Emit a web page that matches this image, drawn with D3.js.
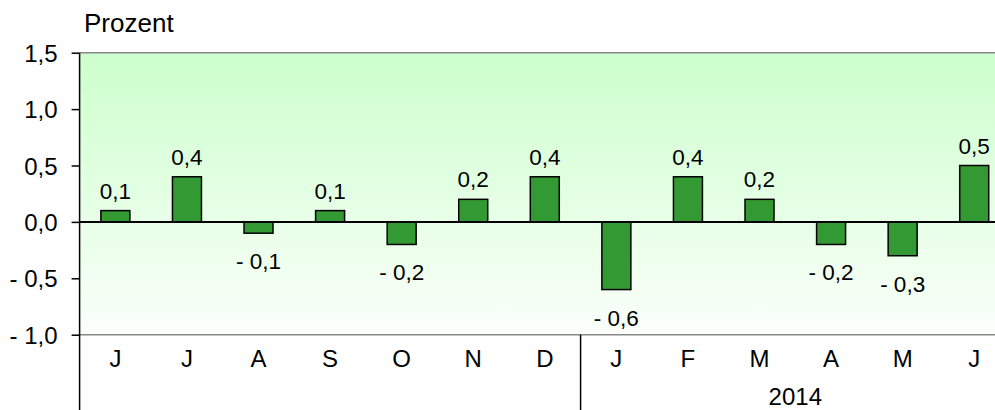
<!DOCTYPE html>
<html><head><meta charset="utf-8">
<script src="https://cdn.jsdelivr.net/npm/d3@7"></script>
<style>body{margin:0;background:#fff;overflow:hidden}svg{display:block}text{font-family:"Liberation Sans",Arial,sans-serif;fill:#000}</style>
</head><body>
<svg id="c" width="995" height="410"></svg>
<script>
const months = ["J","J","A","S","O","N","D","J","F","M","A","M","J"];
const values = [0.1,0.4,-0.1,0.1,-0.2,0.2,0.4,-0.6,0.4,0.2,-0.2,-0.3,0.5];
const yTicks = [1.5,1.0,0.5,0,-0.5,-1.0];
const yearLabels = [{label:"2014", from:7, to:12}];
const unitLabel = "Prozent";

const svg = d3.select("#c");
const L = 79.6, R = 1010, T = 52.7, B = 334.7;
const x = d3.scaleBand().domain(d3.range(months.length)).range([L,R]).paddingInner(0.595).paddingOuter(0.2975);
const y = d3.scaleLinear().domain([-1,1.5]).range([B,T]);
const fmt = v => (v<0?"- ":"") + d3.format(".1f")(Math.abs(v)).replace(".",",");

const defs = svg.append("defs");
const g = defs.append("linearGradient").attr("id","bg").attr("x1",0).attr("y1",0).attr("x2",0).attr("y2",1);
g.append("stop").attr("offset","0%").attr("stop-color","#ccffcc");
g.append("stop").attr("offset","100%").attr("stop-color","#fbfffb");
svg.append("rect").attr("x",L).attr("y",T).attr("width",R-L).attr("height",B-T).attr("fill","url(#bg)");

// top & bottom grid lines
[1.5,-1.0].forEach(v=>svg.append("line").attr("x1",L).attr("x2",R).attr("y1",y(v)).attr("y2",y(v)).attr("stroke","#888").attr("stroke-width",1.5));

// bars
const step = x.step();
svg.selectAll("rect.bar").data(values).join("rect").attr("class","bar")
  .attr("x",(d,i)=>x(i)).attr("width",x.bandwidth())
  .attr("y",d=>y(Math.max(0,d))).attr("height",d=>Math.abs(y(d)-y(0)))
  .attr("fill","#339933").attr("stroke","#000").attr("stroke-width",1.5);

// zero line
svg.append("line").attr("x1",L).attr("x2",R).attr("y1",y(0)).attr("y2",y(0)).attr("stroke","#000").attr("stroke-width",2);

// value labels
svg.selectAll("text.val").data(values).join("text").attr("class","val")
  .attr("x",(d,i)=>x(i)+x.bandwidth()/2)
  .attr("y",d=> d>=0 ? y(d)-12 : y(d)+36)
  .attr("text-anchor","middle").attr("font-size",22.5).text(fmt);

// y axis
const yAxis = d3.axisLeft(y).tickValues(yTicks).tickSize(8).tickPadding(14).tickFormat(fmt);
const ya = svg.append("g").attr("transform",`translate(${L},0)`).call(yAxis);
ya.select(".domain").remove();
ya.selectAll(".tick line").attr("stroke","#000").attr("stroke-width",1.5);
ya.selectAll(".tick text").attr("font-size",24).attr("font-family","Liberation Sans, Arial, sans-serif").attr("fill","#000").attr("dy","0.36em");
svg.append("line").attr("x1",L).attr("x2",L).attr("y1",T).attr("y2",410).attr("stroke","#000").attr("stroke-width",1.5);

// x labels
svg.selectAll("text.mon").data(months).join("text").attr("class","mon")
  .attr("x",(d,i)=>x(i)+x.bandwidth()/2).attr("y",367)
  .attr("text-anchor","middle").attr("font-size",24).text(d=>d);

// year separator and labels
svg.append("line").attr("x1",L+7*step).attr("x2",L+7*step).attr("y1",B).attr("y2",410).attr("stroke","#000").attr("stroke-width",1.5);
yearLabels.forEach(yl=>{
  const cx = (x(yl.from)+x(yl.to)+x.bandwidth())/2;
  svg.append("text").attr("x",cx).attr("y",405).attr("text-anchor","middle").attr("font-size",24).text(yl.label);
});

svg.append("text").attr("x",84).attr("y",31.5).attr("font-size",26).text(unitLabel);
</script>
</body></html>
